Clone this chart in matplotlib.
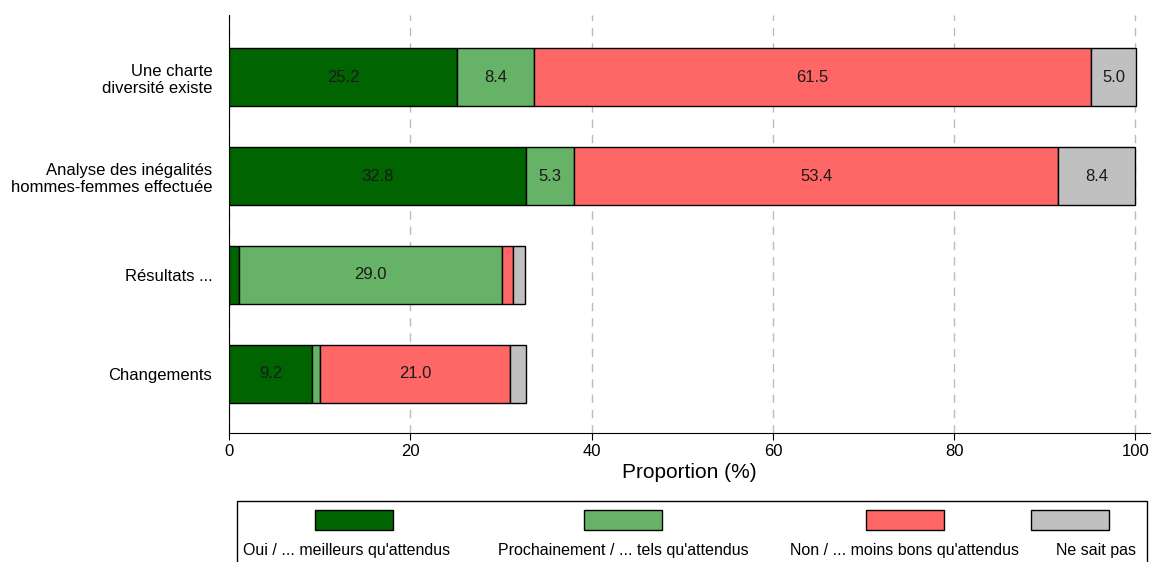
import matplotlib.pyplot as plt
from matplotlib.patches import Rectangle

plt.rcParams['font.family'] = ['Liberation Sans', 'DejaVu Sans']

# Data
categories = ["Une charte\ndiversité existe",
              "Analyse des inégalités\nhommes-femmes effectuée",
              "Résultats ...",
              "Changements"]
series_names = ["Oui / ... meilleurs qu'attendus",
                "Prochainement / ... tels qu'attendus",
                "Non / ... moins bons qu'attendus",
                "Ne sait pas"]
oui = [25.2, 32.8, 1.1, 9.2]
prochainement = [8.4, 5.3, 29.0, 0.8]
non = [61.5, 53.4, 1.2, 21.0]
ne_sait_pas = [5.0, 8.4, 1.4, 1.8]
colors = ["#006400", "#66B266", "#FF6666", "#C0C0C0"]

series = [oui, prochainement, non, ne_sait_pas]

fig = plt.figure(figsize=(11.51, 5.62), dpi=100)
ax = fig.add_axes([229 / 1151, 1 - 433 / 562, (1150 - 229) / 1151, (433 - 15) / 562])

ypos = list(range(len(categories)))
left = [0.0] * len(categories)
for vals, col in zip(series, colors):
    ax.barh(ypos, vals, left=left, height=0.59, color=col,
            edgecolor="black", linewidth=1, zorder=3)
    for y, v, l in zip(ypos, vals, left):
        if v >= 3:
            ax.text(l + v / 2, y, f"{v:.1f}", ha="center", va="center",
                    fontsize=12, color="#1a1a1a", zorder=4)
    left = [l + v for l, v in zip(left, vals)]

ax.set_ylim(len(categories) - 0.4, -0.63)
ax.set_xlim(0, 101.6)
ax.set_yticks(ypos)
ax.set_yticklabels(categories, fontsize=12)
ax.set_xticks([0, 20, 40, 60, 80, 100])
ax.tick_params(axis="x", labelsize=12, direction="out", length=5, pad=3)
ax.tick_params(axis="y", length=0, pad=12)
ax.set_xlabel("Proportion (%)", fontsize=15, labelpad=3)
ax.grid(axis="x", color="#BBBBBB", linestyle=(0, (6, 5)), linewidth=1, zorder=0)
ax.spines["top"].set_visible(False)
ax.spines["right"].set_visible(False)

# Legend box drawn by hand (Stata style: key above label)
lax = fig.add_axes([0, 0, 1, 1], facecolor="none")
lax.set_xlim(0, 1151)
lax.set_ylim(562, 0)
lax.axis("off")
lax.add_patch(Rectangle((237, 501), 910, 70, fill=False, edgecolor="black", linewidth=1))
key_centers = [354, 623, 905, 1070]
text_centers = [347, 623, 905, 1096]
for kc, tc, col, name in zip(key_centers, text_centers, colors, series_names):
    lax.add_patch(Rectangle((kc - 39, 510), 78, 20, facecolor=col, edgecolor="black", linewidth=1))
    lax.text(tc, 550, name, ha="center", va="center", fontsize=11.5)

fig.savefig("out.png", dpi=100)
